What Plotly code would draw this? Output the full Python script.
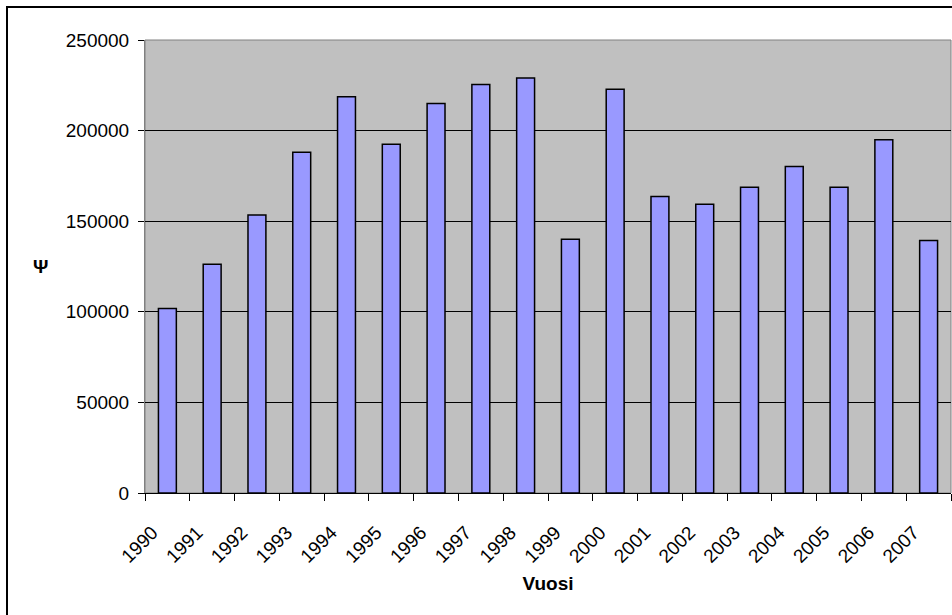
import plotly.graph_objects as go

years = [str(y) for y in range(1990, 2008)]
values = [101800, 126300, 153400, 188100, 218700, 192400, 215000, 225500, 229000,
          140100, 222800, 163700, 159400, 168800, 180200, 168800, 194900, 139400]

y_ticks = [0, 50000, 100000, 150000, 200000, 250000]
x_title = "Vuosi"
y_title = "Ψ"

FONT = "Liberation Sans, Arial, sans-serif"

fig = go.Figure()
fig.add_trace(go.Bar(
    x=years, y=values,
    marker=dict(color="#9999FF", line=dict(color="black", width=1.5)),
    showlegend=False,
))

W, H = 952, 615
ml, mt, mr, mb = 145, 40, 1, 122
pw, ph = W - ml - mr, H - mt - mb

fig.update_layout(
    width=W, height=H,
    margin=dict(l=ml, r=mr, t=mt, b=mb, pad=0),
    paper_bgcolor="white",
    plot_bgcolor="#C0C0C0",
    bargap=0.6,
    font=dict(family=FONT, size=19, color="black"),
    xaxis=dict(
        type="category",
        tickson="boundaries",
        ticks="outside", ticklen=7, tickcolor="black", tickwidth=1,
        tickangle=-45,
        showgrid=False,
        showline=True, linecolor="black", linewidth=1,
        title=dict(text="<b>" + x_title + "</b>", font=dict(size=19), standoff=10),
        ticklabelstandoff=20,
        ticklabelshift=-15,
    ),
    yaxis=dict(
        range=[0, 250000],
        tickvals=y_ticks,
        ticktext=[str(v) for v in y_ticks],
        ticks="outside", ticklen=6, tickcolor="black", tickwidth=1,
        showgrid=True, gridcolor="black", gridwidth=1,
        zeroline=False,
        showline=True, linecolor="#808080", linewidth=1,
        ticklabelstandoff=5,
    ),
    shapes=[
        dict(type="rect", xref="paper", yref="paper", x0=0, x1=1, y0=0, y1=1,
             line=dict(color="#808080", width=1), layer="below"),
        dict(type="rect", xref="paper", yref="paper",
             x0=(7 - ml) / pw, x1=1.05, y0=-0.5, y1=(H - mb - 7) / ph,
             line=dict(color="black", width=2), fillcolor="rgba(0,0,0,0)"),
    ],
    annotations=[
        dict(text="<b>" + y_title + "</b>", xref="paper", yref="paper",
             x=(40 - ml) / pw, y=0.5, showarrow=False,
             font=dict(size=19), xanchor="center", yanchor="middle"),
    ],
)

fig.write_html("out.html")
